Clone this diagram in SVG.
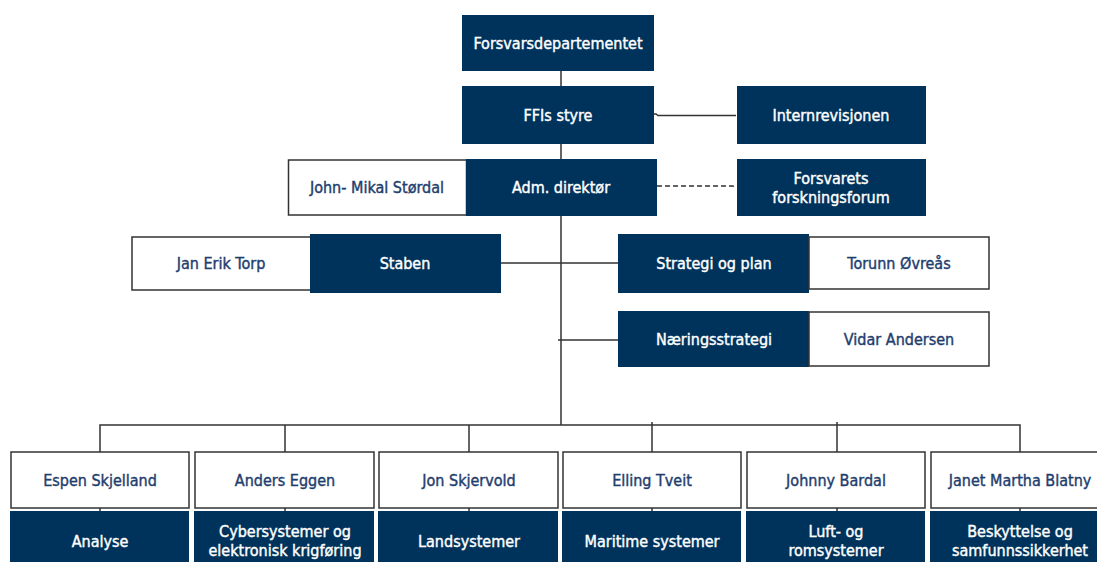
<svg xmlns="http://www.w3.org/2000/svg" width="1097" height="562" viewBox="0 0 1097 562">
<style>
.d{fill:#00335b}
.w{fill:#fff;stroke:#333;stroke-width:1.5}
text{font-family:"DejaVu Sans Condensed","DejaVu Sans",sans-serif;font-size:16px;text-anchor:middle;dominant-baseline:central;stroke-width:0.4}
.tw{fill:#fff;stroke:#fff}
.tn{fill:#1f3e6e;stroke:#1f3e6e}
.c{fill:none;stroke:#333;stroke-width:1.5}
.dash{stroke-dasharray:5 3}
</style>
<rect width="1097" height="562" fill="#fff"/>
<g id="connectors">
<path class="c" d="M561 71V86M561 144V159M561 215V425"/>
<path class="c" d="M736 115.5H658L656 114H654"/>
<path class="c dash" d="M657 186H733L736 188"/>
<path class="c" d="M501 263H618M558 340H618"/>
<path class="c" d="M100 452V425H1020V452M285 425V452M469 425V452M652 422V452M837 422V452"/>
<path class="c" d="M100 508V511M285 508V511M469 508V511M652 508V511M837 508V511M1020 508V511"/>
</g>
<g id="forsvarsdepartementet"><rect class="d" x="462" y="15" width="192" height="56"/><text class="tw" x="558" y="43">Forsvarsdepartementet</text></g>
<g id="ffis-styre"><rect class="d" x="462" y="86" width="192" height="58"/><text class="tw" x="558" y="115">FFIs styre</text></g>
<g id="internrevisjonen"><rect class="d" x="737" y="86" width="189" height="58"/><text class="tw" x="831" y="115">Internrevisjonen</text></g>
<g id="adm-direktor"><rect class="w" x="288.5" y="160" width="178" height="55"/><text class="tn" x="377" y="187">John- Mikal Størdal</text><rect class="d" x="466" y="159" width="191" height="57"/><text class="tw" x="561" y="187">Adm. direktør</text></g>
<g id="forsvarets-forskningsforum"><rect class="d" x="737" y="159" width="189" height="57"/><text class="tw" x="831" y="178">Forsvarets</text><text class="tw" x="831" y="197">forskningsforum</text></g>
<g id="staben"><rect class="w" x="132" y="237" width="179" height="53"/><text class="tn" x="221" y="263">Jan Erik Torp</text><rect class="d" x="310" y="234" width="191" height="59"/><text class="tw" x="405" y="263">Staben</text></g>
<g id="strategi-og-plan"><rect class="d" x="618" y="234" width="191" height="59"/><text class="tw" x="714" y="263">Strategi og plan</text><rect class="w" x="809" y="237" width="180" height="52"/><text class="tn" x="899" y="263">Torunn Øvreås</text></g>
<g id="naeringsstrategi"><rect class="d" x="618" y="311" width="191" height="56"/><text class="tw" x="714" y="339">Næringsstrategi</text><rect class="w" x="809" y="312" width="180" height="54"/><text class="tn" x="899" y="339">Vidar Andersen</text></g>
<g id="analyse"><rect class="w" x="11" y="452" width="178" height="56"/><text class="tn" x="100" y="480">Espen Skjelland</text><rect class="d" x="10" y="511" width="179" height="60"/><text class="tw" x="100" y="541">Analyse</text></g>
<g id="cybersystemer"><rect class="w" x="195" y="452" width="179" height="56"/><text class="tn" x="285" y="480">Anders Eggen</text><rect class="d" x="194" y="511" width="180" height="60"/><text class="tw" x="285" y="531">Cybersystemer og</text><text class="tw" x="285" y="550">elektronisk krigføring</text></g>
<g id="landsystemer"><rect class="w" x="379" y="452" width="179" height="56"/><text class="tn" x="469" y="480">Jon Skjervold</text><rect class="d" x="378" y="511" width="180" height="60"/><text class="tw" x="469" y="541">Landsystemer</text></g>
<g id="maritime-systemer"><rect class="w" x="563" y="452" width="178" height="56"/><text class="tn" x="652" y="480">Elling Tveit</text><rect class="d" x="562" y="511" width="179" height="60"/><text class="tw" x="652" y="541">Maritime systemer</text></g>
<g id="luft-og-romsystemer"><rect class="w" x="747" y="452" width="178" height="56"/><text class="tn" x="836" y="480">Johnny Bardal</text><rect class="d" x="746" y="511" width="179" height="60"/><text class="tw" x="836" y="531">Luft- og</text><text class="tw" x="836" y="550">romsystemer</text></g>
<g id="beskyttelse"><rect class="w" x="931" y="452" width="179" height="56"/><text class="tn" x="1020" y="480">Janet Martha Blatny</text><rect class="d" x="930" y="511" width="180" height="60"/><text class="tw" x="1020" y="531">Beskyttelse og</text><text class="tw" x="1020" y="550">samfunnssikkerhet</text></g>
</svg>
